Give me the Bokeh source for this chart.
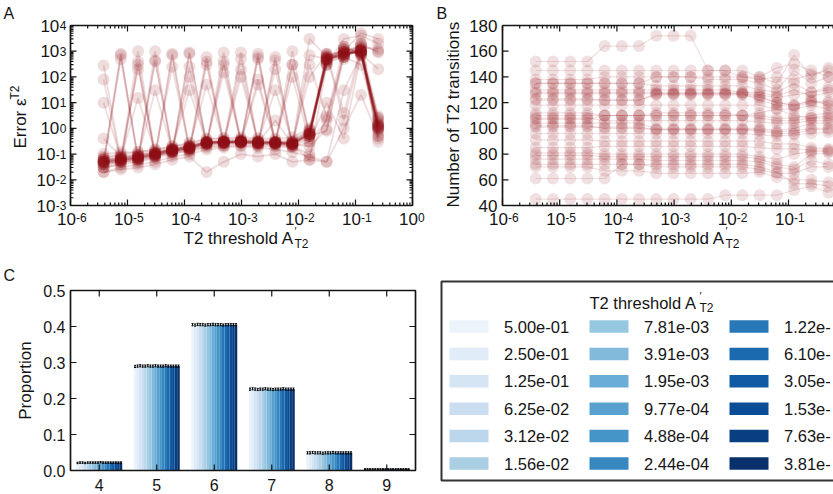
import math
from bokeh.plotting import figure
from bokeh.models import Range1d
from bokeh.layouts import row, column
from bokeh.embed import file_html
from bokeh.resources import INLINE
from bokeh.core.properties import value

FONT = "Liberation Sans"
INK = "#151515"
RED = "#8f0d18"

# ---------------------------------------------------------------- data ----
# T2 thresholds A'_T2, largest first (legend order)
thresholds = [5.00e-01, 2.50e-01, 1.25e-01, 6.25e-02, 3.12e-02, 1.56e-02,
              7.81e-03, 3.91e-03, 1.95e-03, 9.77e-04, 4.88e-04, 2.44e-04,
              1.22e-04, 6.10e-05, 3.05e-05, 1.53e-05, 7.63e-06, 3.81e-06]
decades = [1e-6, 1e-5, 1e-4, 1e-3, 1e-2, 1e-1, 1e0]
error_decades = [1e-3, 1e-2, 1e-1, 1e0, 1e1, 1e2, 1e3, 1e4]
count_ticks = [40, 60, 80, 100, 120, 140, 160, 180]
neighbours = [4, 5, 6, 7, 8, 9]
prop_ticks = [0.0, 0.1, 0.2, 0.3, 0.4, 0.5]

# error eps^T2 of each run, thresholds 3.81e-06 ... 2.50e-01
e01 = [0.05, 800, 0.07, 450, 0.14, 250, 0.28, 900, 0.3, 500, 0.28, 1000, 0.5, 450, 800, 900, 1.5]
e02 = [280, 0.06, 1000, 0.09, 800, 0.17, 600, 0.3, 900, 0.27, 450, 0.25, 3000, 600, 1200, 1000, 0.9]
e03 = [0.04, 500, 0.06, 1000, 0.13, 800, 0.25, 300, 0.3, 600, 0.27, 300, 0.6, 300, 700, 1200, 2.0]
e04 = [80, 0.05, 300, 0.1, 250, 0.15, 400, 0.28, 200, 0.26, 200, 0.22, 700, 500, 1000, 800, 1.2]
e05 = [10, 0.07, 15, 0.12, 0.15, 100, 0.25, 150, 0.3, 80, 0.3, 100, 0.3, 2, 600, 2000, 900]
e06 = [0.4, 0.08, 200, 0.1, 0.16, 0.2, 50, 0.28, 0.35, 0.3, 30, 0.3, 100, 800, 4, 1500, 1200]
e07 = [0.05, 0.06, 0.07, 0.09, 0.13, 0.17, 0.27, 0.28, 0.3, 0.27, 0.27, 0.25, 0.6, 500, 700, 1000, 1.2]
e08 = [0.04, 0.05, 0.06, 0.08, 0.12, 0.16, 0.25, 0.26, 0.28, 0.25, 0.25, 0.22, 0.5, 450, 900, 1100, 1.0]
e09 = [0.06, 0.07, 0.08, 0.11, 0.15, 0.2, 0.3, 0.3, 0.32, 0.3, 0.28, 0.27, 0.7, 600, 800, 900, 0.8]
e10 = [0.03, 0.04, 0.05, 0.07, 0.1, 0.14, 0.2, 0.22, 0.25, 0.22, 0.22, 0.2, 0.4, 400, 600, 1300, 1.5]
e11 = [0.07, 0.09, 0.1, 0.13, 0.18, 0.22, 0.32, 0.35, 0.35, 0.33, 0.3, 0.3, 0.8, 700, 1000, 800, 2.5]
e12 = [0.05, 0.05, 0.06, 0.09, 0.14, 0.18, 0.28, 0.3, 0.3, 0.28, 0.26, 0.24, 0.2, 0.9, 1000, 1500, 1000]
e13 = [0.02, 0.03, 0.04, 0.05, 0.08, 0.1, 0.15, 0.18, 0.2, 0.18, 0.15, 0.12, 0.08, 0.05, 30, 700, 1.1]
e14 = [0.08, 0.1, 0.12, 0.15, 0.2, 0.25, 0.38, 0.4, 0.4, 0.38, 0.35, 0.35, 0.9, 800, 500, 2000, 3.0]
e15 = [0.05, 0.06, 0.08, 0.1, 0.14, 0.17, 0.26, 0.27, 0.28, 0.26, 0.25, 0.23, 0.06, 300, 1500, 900, 0.5]
e16 = [0.04, 0.05, 0.07, 0.09, 0.12, 0.15, 0.22, 0.25, 0.27, 0.24, 0.24, 0.2, 0.1, 2.5, 800, 1000, 0.3]
e17 = [0.06, 0.06, 0.07, 0.1, 0.14, 0.19, 0.29, 0.28, 0.31, 0.29, 0.28, 0.26, 0.65, 500, 700, 1000, 1.3]
e18 = [0.03, 0.05, 0.05, 0.08, 0.11, 0.13, 0.18, 0.2, 0.22, 0.2, 0.2, 0.18, 0.3, 10, 0.4, 800, 200]
e19 = [0.05, 0.07, 0.09, 0.11, 0.15, 0.19, 0.3, 0.32, 0.33, 0.3, 0.29, 0.28, 0.6, 500, 1200, 700, 1.0]
e20 = [0.045, 0.055, 0.065, 0.085, 0.13, 0.16, 0.24, 0.27, 0.28, 0.26, 0.26, 0.24, 0.55, 550, 600, 1200, 1.8]
e21 = [0.02, 0.025, 0.03, 0.04, 0.06, 0.08, 0.02, 0.05, 0.1, 0.08, 0.1, 0.05, 0.06, 0.05, 1.0, 20, 0.5]
e22 = [0.1, 0.12, 0.12, 0.15, 0.2, 0.28, 0.4, 0.42, 0.45, 0.42, 0.4, 0.45, 1.0, 300, 3000, 4000, 2000]
e23 = [0.05, 0.06, 0.07, 0.1, 0.14, 0.18, 0.28, 0.29, 0.3, 0.28, 0.27, 0.25, 0.6, 450, 800, 1000, 1.1]
e24 = [0.06, 0.07, 0.08, 0.1, 0.15, 0.2, 0.3, 0.3, 0.3, 0.29, 0.28, 0.25, 0.6, 550, 750, 1100, 1.4]
e25 = [0.05, 700, 0.06, 400, 0.12, 900, 0.25, 400, 0.3, 800, 0.25, 300, 0.5, 350, 900, 1800, 0.7]
e26 = [0.03, 0.04, 400, 0.07, 700, 0.13, 300, 0.22, 500, 0.22, 600, 0.2, 300, 3, 1500, 700, 1.0]
e27 = [0.06, 0.07, 0.09, 0.12, 0.16, 30, 0.28, 0.3, 100, 0.3, 0.3, 0.28, 0.7, 700, 2, 1000, 2.5]
e28 = [0.05, 0.06, 0.07, 30, 0.13, 0.17, 0.26, 0.3, 0.3, 50, 0.27, 0.25, 0.5, 0.8, 600, 300, 1.3]
e29 = [0.04, 0.06, 0.08, 0.09, 0.12, 0.17, 0.27, 0.3, 0.3, 0.28, 2, 0.25, 0.6, 600, 1000, 5000, 3000]
e30 = [0.07, 0.08, 0.09, 0.11, 0.16, 0.2, 0.3, 0.32, 0.35, 0.32, 0.3, 0.3, 0.8, 400, 1200, 1000, 0.4]

# number of T2 transitions of each run, thresholds 3.81e-06 ... 5.00e-01
n01 = [152, 152, 152, 152, 164, 164, 164, 172, 172, 172, 145, 145, 145, 140, 147, 150, 145, 140]
n02 = [145, 145, 145, 145, 145, 145, 145, 145, 145, 145, 145, 145, 140, 140, 135, 157, 140, 147]
n03 = [138, 138, 138, 138, 140, 140, 140, 140, 140, 140, 138, 138, 138, 135, 130, 145, 135, 140]
n04 = [135, 135, 135, 135, 135, 135, 135, 133, 133, 133, 133, 133, 133, 130, 128, 135, 128, 132]
n05 = [130, 130, 130, 130, 130, 130, 130, 130, 130, 130, 130, 130, 128, 128, 125, 130, 125, 128]
n06 = [127, 127, 127, 127, 127, 127, 127, 127, 127, 127, 127, 127, 127, 125, 120, 118, 121, 121]
n07 = [122, 122, 122, 122, 122, 122, 122, 127, 127, 127, 127, 127, 127, 122, 118, 117, 120, 120]
n08 = [123, 123, 123, 123, 122, 122, 122, 126, 126, 126, 126, 126, 126, 124, 120, 118, 122, 118]
n09 = [118, 118, 118, 118, 118, 118, 118, 118, 118, 118, 118, 118, 118, 118, 115, 115, 118, 115]
n10 = [112, 112, 112, 112, 110, 110, 110, 112, 112, 112, 112, 112, 110, 110, 108, 108, 110, 112]
n11 = [110, 110, 110, 110, 110, 110, 110, 110, 110, 110, 110, 110, 110, 108, 106, 106, 108, 110]
n12 = [108, 108, 108, 108, 106, 106, 106, 106, 106, 106, 106, 106, 106, 105, 104, 104, 106, 106]
n13 = [104, 104, 104, 104, 104, 104, 104, 100, 100, 100, 100, 100, 100, 100, 98, 100, 104, 104]
n14 = [102, 102, 102, 102, 100, 100, 100, 99, 99, 99, 99, 99, 99, 99, 97, 98, 100, 100]
n15 = [101, 101, 101, 101, 101, 101, 101, 99, 99, 99, 99, 99, 99, 98, 96, 96, 99, 99]
n16 = [96, 96, 96, 96, 96, 96, 96, 96, 96, 96, 96, 96, 96, 95, 94, 95, 96, 97]
n17 = [91, 91, 91, 91, 90, 90, 90, 90, 90, 90, 90, 90, 90, 90, 88, 88, 85, 84]
n18 = [85, 85, 85, 85, 86, 86, 86, 86, 86, 86, 86, 86, 86, 85, 84, 84, 83, 83]
n19 = [81, 81, 81, 81, 80, 80, 80, 80, 80, 80, 80, 80, 80, 78, 76, 80, 82, 82]
n20 = [79, 79, 79, 79, 78, 78, 78, 78, 78, 78, 78, 78, 78, 76, 72, 70, 80, 81]
n21 = [76, 76, 76, 76, 76, 76, 76, 75, 75, 75, 75, 75, 75, 74, 70, 68, 75, 72]
n22 = [72, 72, 72, 72, 72, 72, 72, 70, 70, 70, 70, 70, 70, 68, 65, 65, 70, 70]
n23 = [70, 70, 70, 70, 67, 67, 67, 65, 65, 65, 65, 65, 65, 66, 62, 60, 60, 58]
n24 = [61, 61, 61, 61, 61, 72, 72, 72, 72, 72, 72, 72, 72, 70, 66, 57, 57, 55]
n25 = [45, 45, 45, 45, 45, 45, 45, 45, 45, 45, 45, 48, 48, 48, 48, 52, 55, 50]
n26 = [135, 135, 135, 135, 135, 135, 135, 140, 140, 140, 140, 140, 140, 138, 140, 138, 142, 145]
n27 = [128, 128, 128, 128, 128, 128, 128, 128, 128, 128, 128, 128, 128, 126, 124, 126, 128, 130]
n28 = [107, 107, 107, 107, 110, 110, 110, 110, 110, 110, 110, 110, 110, 112, 115, 110, 108, 108]

# proportion of cells with n neighbours, thresholds 5.00e-01 ... 3.81e-06
prop_4 = [0.021, 0.022, 0.022, 0.021, 0.022, 0.022, 0.022, 0.022, 0.022, 0.023, 0.022, 0.022, 0.022, 0.022, 0.022, 0.022, 0.022, 0.022]
prop_5 = [0.289, 0.290, 0.291, 0.290, 0.290, 0.291, 0.290, 0.290, 0.291, 0.290, 0.290, 0.290, 0.291, 0.290, 0.290, 0.290, 0.290, 0.290]
prop_6 = [0.405, 0.404, 0.406, 0.405, 0.405, 0.404, 0.405, 0.405, 0.406, 0.405, 0.405, 0.405, 0.404, 0.405, 0.405, 0.405, 0.405, 0.405]
prop_7 = [0.226, 0.227, 0.226, 0.225, 0.226, 0.226, 0.227, 0.226, 0.226, 0.225, 0.226, 0.226, 0.226, 0.227, 0.226, 0.226, 0.226, 0.226]
prop_8 = [0.049, 0.049, 0.050, 0.049, 0.049, 0.049, 0.048, 0.049, 0.049, 0.049, 0.050, 0.049, 0.049, 0.049, 0.049, 0.049, 0.049, 0.049]
prop_9 = [0.004, 0.004, 0.004, 0.004, 0.004, 0.004, 0.004, 0.004, 0.004, 0.004, 0.004, 0.004, 0.004, 0.004, 0.004, 0.004, 0.004, 0.004]
prop_err = [0.002, 0.003, 0.003, 0.003, 0.003, 0.001]

error_runs = [e01, e02, e03, e04, e05, e06, e07, e08, e09, e10, e11, e12, e13, e14, e15,
              e16, e17, e18, e19, e20, e21, e22, e23, e24, e25, e26, e27, e28, e29, e30]
count_runs = [n01, n02, n03, n04, n05, n06, n07, n08, n09, n10, n11, n12, n13, n14,
              n15, n16, n17, n18, n19, n20, n21, n22, n23, n24, n25, n26, n27, n28]
proportions = [prop_4, prop_5, prop_6, prop_7, prop_8, prop_9]

thr_up = thresholds[::-1]

# sequential blue shades, light for large thresholds
BLUES9 = ["#f7fbff", "#deebf7", "#c6dbef", "#9ecae1", "#6baed6",
          "#4292c6", "#2171b5", "#08519c", "#08306b"]


def blues(t):
    pos = t * 8
    i = min(int(pos), 7)
    f = pos - i
    a, b = BLUES9[i], BLUES9[i + 1]
    return "#%02x%02x%02x" % tuple(
        round(int(a[k:k + 2], 16) * (1 - f) + int(b[k:k + 2], 16) * f) for k in (1, 3, 5))


shades = [blues(0.06 + i * 0.94 / 17) for i in range(len(thresholds))]

log_minor = [m * 10.0 ** d for d in range(-6, 4) for m in range(2, 10)]


# ------------------------------------------------------------- helpers ----
def panel(width, height, xr, yr, xlog=False, ylog=False):
    p = figure(width=width, height=height, x_range=xr, y_range=yr,
               x_axis_type="log" if xlog else "linear",
               y_axis_type="log" if ylog else "linear",
               x_axis_location=None, y_axis_location=None,
               min_border_left=0, min_border_right=0, min_border_top=0, min_border_bottom=0,
               output_backend="svg", toolbar_location=None)
    p.grid.visible = False
    p.outline_line_color = None
    return p


def txt(p, xs, ys, texts, size, dx=0, dy=0, align="left", baseline="middle", angle=0.0):
    p.text(x=list(xs), y=list(ys), text=list(texts), x_offset=dx, y_offset=dy, angle=angle,
           text_align=align, text_baseline=baseline, text_font=value(FONT),
           text_font_size=value(f"{size}px"), text_color=INK)


def xticks(p, xs, y, up, length):
    xs = list(xs)
    p.ray(x=xs, y=[y] * len(xs), length=length, length_units="screen",
          angle=math.pi / 2 if up else -math.pi / 2, line_color=INK, line_width=1.2)


def yticks(p, ys, x, right, length):
    ys = list(ys)
    p.ray(x=[x] * len(ys), y=ys, length=length, length_units="screen",
          angle=0.0 if right else math.pi, line_color=INK, line_width=1.2)


def exp_width(e):
    return sum(0.333 if c == "-" else 0.556 for c in e) * 12


def log_xlabels(p, ticks, y):
    exps = [str(round(math.log10(t))) for t in ticks]
    txt(p, ticks, [y] * len(ticks), ["10"] * len(ticks), 17, dx=-13.5, dy=13)
    txt(p, ticks, [y] * len(ticks), exps, 12, dx=5.5, dy=12, baseline="alphabetic")


def log_ylabels(p, ticks, x):
    exps = [str(round(math.log10(t))) for t in ticks]
    widths = [exp_width(e) for e in exps]
    txt(p, [x] * len(ticks), ticks, ["10"] * len(ticks), 17,
        dx=[-(4.5 + w) for w in widths], align="right")
    txt(p, [x] * len(ticks), ticks, exps, 12,
        dx=[-(4 + w) for w in widths], baseline="alphabetic")


def threshold_title(p, x, y, dx, dy):
    txt(p, [x], [y], ["T2 threshold A"], 17, dx=dx, dy=dy)
    txt(p, [x], [y], ["\u2032"], 11, dx=dx + 111, dy=dy - 8)
    txt(p, [x], [y], ["T2"], 12, dx=dx + 111, dy=dy + 5)


def runs(p, xs, ys_list, alpha, width):
    p.multi_line([list(xs[:len(r)]) for r in ys_list], [list(r) for r in ys_list],
                 line_color=RED, line_alpha=alpha, line_width=width)
    px = [x for r in ys_list for x in xs[:len(r)]]
    py = [y for r in ys_list for y in r]
    p.scatter(px, py, size=12, fill_color=RED, fill_alpha=alpha, line_color=None)


# ------------------------------------------------------ A: error vs threshold
A_X0, A_X1, A_Y0, A_Y1 = 1e-6, 1.0, 1e-3, 1e4
A_DX = 342 / 6      # px per decade
A_DY = 180 / 7
pA = panel(430, 260,
           Range1d(10 ** (-6 - 70 / A_DX), 10 ** (0 + 18 / A_DX)),
           Range1d(10 ** (-3 - 55 / A_DY), 10 ** (4 + 25 / A_DY)), xlog=True, ylog=True)
runs(pA, thr_up, error_runs, 0.14, 1.8)
pA.quad(left=[A_X0], right=[A_X1], bottom=[A_Y0], top=[A_Y1], fill_color=None,
        line_color=INK, line_width=1.7)
a_minor_x = [t for t in log_minor if A_X0 < t < A_X1]
a_minor_y = [t for t in log_minor if A_Y0 < t < A_Y1]
for y, up in ((A_Y0, True), (A_Y1, False)):
    xticks(pA, decades, y, up, 6)
    xticks(pA, a_minor_x, y, up, 3)
for x, right in ((A_X0, True), (A_X1, False)):
    yticks(pA, error_decades, x, right, 6)
    yticks(pA, a_minor_y, x, right, 3)
log_xlabels(pA, decades, A_Y0)
log_ylabels(pA, error_decades, A_X0)
txt(pA, [A_X0], [A_Y1], ["A"], 16, dx=-67, dy=-12)
txt(pA, [A_X0], [A_Y0], ["Error \u03b5"], 17, dx=-50, dy=-57, angle=math.pi / 2)
txt(pA, [A_X0], [A_Y0], ["T2"], 12, dx=-56, dy=-106, angle=math.pi / 2)
threshold_title(pA, A_X0, A_Y0, 113, 33)

# ------------------------------------------- B: T2 transitions vs threshold
B_X0, B_Y0, B_Y1 = 1e-6, 40, 180
B_DX = 57.2
B_DY = 180 / 140
b_end = 10 ** (-6 + 331 / B_DX)
pB = panel(403, 260, Range1d(10 ** (-6 - 72 / B_DX), b_end),
           Range1d(B_Y0 - 55 / B_DY, B_Y1 + 25 / B_DY), xlog=True)
runs(pB, thr_up, count_runs, 0.13, 1.2)
pB.segment(x0=[B_X0, B_X0, B_X0], y0=[B_Y0, B_Y0, B_Y1], x1=[B_X0, b_end, b_end],
           y1=[B_Y1, B_Y0, B_Y1], line_color=INK, line_width=1.7)
b_major_x = [t for t in decades if t < b_end]
b_minor_x = [t for t in log_minor if B_X0 < t < b_end]
for y, up in ((B_Y0, True), (B_Y1, False)):
    xticks(pB, b_major_x, y, up, 6)
    xticks(pB, b_minor_x, y, up, 3)
yticks(pB, count_ticks, B_X0, True, 6)
log_xlabels(pB, b_major_x, B_Y0)
txt(pB, [B_X0] * len(count_ticks), count_ticks, [str(c) for c in count_ticks], 17,
    dx=-5, align="right")
txt(pB, [B_X0], [B_Y1], ["B"], 16, dx=-66, dy=-12)
txt(pB, [B_X0], [(B_Y0 + B_Y1) / 2], ["Number of T2 transitions"], 17, dx=-49, dy=-1,
    align="center", angle=math.pi / 2)
threshold_title(pB, B_X0, B_Y0, 112, 33)

# ------------------------------------------ C: neighbour-count proportions
C_X0, C_X1, C_Y0, C_Y1 = 3.5, 9.5, 0.0, 0.5
C_DX = 345 / 6
C_DY = 180 / 0.5
pC = panel(430, 234, Range1d(C_X0 - 70 / C_DX, C_X1 + 15 / C_DX),
           Range1d(C_Y0 - 24 / C_DY, C_Y1 + 30 / C_DY))
bar_w = 0.8 / len(thresholds)
bx, btop, bcol, berr = [], [], [], []
for k, props, err in zip(neighbours, proportions, prop_err):
    for j, v in enumerate(props):
        bx.append(k - 0.4 + (j + 0.5) * bar_w)
        btop.append(v)
        bcol.append(shades[j])
        berr.append(err)
pC.vbar(x=bx, top=btop, width=bar_w, fill_color=bcol, line_color=None)
pC.segment(x0=bx, y0=[v - e for v, e in zip(btop, berr)], x1=bx,
           y1=[v + e for v, e in zip(btop, berr)], line_color="black", line_width=1)
for sgn in (-1, 1):
    pC.segment(x0=[x - 0.4 * bar_w for x in bx], x1=[x + 0.4 * bar_w for x in bx],
               y0=[v + sgn * e for v, e in zip(btop, berr)],
               y1=[v + sgn * e for v, e in zip(btop, berr)],
               line_color="black", line_width=1)
pC.quad(left=[C_X0], right=[C_X1], bottom=[C_Y0], top=[C_Y1], fill_color=None,
        line_color=INK, line_width=1.7)
for y, up in ((C_Y0, True), (C_Y1, False)):
    xticks(pC, neighbours, y, up, 6)
for x, right in ((C_X0, True), (C_X1, False)):
    yticks(pC, prop_ticks, x, right, 6)
txt(pC, neighbours, [C_Y0] * len(neighbours), [str(k) for k in neighbours], 16,
    dy=14, align="center")
txt(pC, [C_X0] * len(prop_ticks), prop_ticks, [f"{v:.1f}" for v in prop_ticks], 16,
    dx=-5, align="right")
txt(pC, [C_X0], [C_Y1], ["C"], 16, dx=-67, dy=-15)
txt(pC, [C_X0], [(C_Y0 + C_Y1) / 2], ["Proportion"], 17, dx=-45, align="center",
    angle=math.pi / 2)

# ------------------------------------------------------------ legend box
pL = panel(403, 234, Range1d(0, 403), Range1d(234, 0))
pL.quad(left=[11], right=[430], top=[21], bottom=[220], fill_color=None,
        line_color="#333333", line_width=2)
sw_x = [19 + 140 * (i // 6) + 19.5 for i in range(len(thresholds))]
sw_y = [66 + 27.4 * (i % 6) for i in range(len(thresholds))]
pL.rect(x=sw_x, y=sw_y, width=39, height=12.5, fill_color=shades, line_color=None)
# the third column runs past the right edge of the page
legend_text = [f"{t:.2e}" if i < 12 else f"{t:.2e}"[:6] for i, t in enumerate(thresholds)]
txt(pL, [x + 35 for x in sw_x], sw_y, legend_text, 16.5)
txt(pL, [159], [42], ["T2 threshold A"], 16.5)
txt(pL, [269], [35], ["\u2032"], 11)
txt(pL, [269], [47], ["T2"], 12)

layout = column(row(pA, pB), row(pC, pL))
open("out.html", "w").write(file_html(layout, INLINE))
